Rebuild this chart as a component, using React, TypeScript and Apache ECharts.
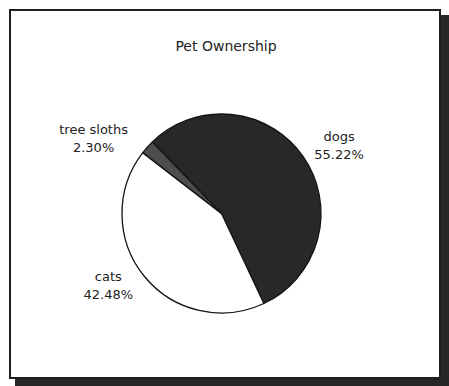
import React, { useEffect, useRef } from "react";
import * as echarts from "echarts";

const chartTitle = "Pet Ownership";
const categories = ["dogs", "cats", "tree sloths"];
const percentages = [55.22, 42.48, 2.3];
const sliceColors = ["#282828", "#ffffff", "#4d4d4d"];
// small label nudges (px) applied after ECharts' own outside-label layout
const labelNudgeX = [-4, 3.5, -5.5];
const labelNudgeY = [-5, 2, -1];

const FONT = "'DejaVu Sans', sans-serif";

export default function App() {
  const ref = useRef<HTMLDivElement>(null);
  useEffect(() => {
    if (!ref.current) return;
    const chart = echarts.init(ref.current, null, { renderer: "svg" });
    const data = categories.map((name, i) => ({
      name,
      value: percentages[i],
      itemStyle: { color: sliceColors[i] },
    }));
    chart.setOption({
      animation: false,
      backgroundColor: "#ffffff",
      title: {
        text: chartTitle,
        left: 221,
        top: 34,
        textAlign: "center",
        textStyle: {
          fontFamily: FONT,
          fontSize: 14,
          fontWeight: "normal",
          color: "#222222",
        },
      },
      graphic: [
        {
          type: "rect",
          z: 0,
          shape: { x: 15, y: 15, width: 434, height: 371 },
          style: { fill: "#262626" },
        },
        {
          type: "rect",
          z: 1,
          shape: { x: 10, y: 10, width: 430, height: 368 },
          style: { fill: "#ffffff", stroke: "#1e1e1e", lineWidth: 2 },
        },
      ],
      series: [
        {
          type: "pie",
          z: 5,
          center: [221.5, 213.5],
          radius: 99.5,
          startAngle: 134,
          clockwise: true,
          avoidLabelOverlap: false,
          itemStyle: { borderColor: "#141414", borderWidth: 1.3 },
          label: {
            show: true,
            position: "outside",
            formatter: (p: any) => `${p.name}\n${p.value.toFixed(2)}%`,
            fontFamily: FONT,
            fontSize: 13,
            lineHeight: 18,
            color: "#222222",
            distanceToLabelLine: 5,
          },
          labelLine: { show: false, length: 12, length2: 0 },
          labelLayout: (p: any) => ({
            x: p.labelRect.x + p.labelRect.width / 2 + labelNudgeX[p.dataIndex],
            y: p.labelRect.y + p.labelRect.height / 2 + labelNudgeY[p.dataIndex],
            align: "center",
            verticalAlign: "middle",
          }),
          emphasis: { disabled: true },
          data,
        },
      ],
    });
    return () => chart.dispose();
  }, []);
  return (
    <div
      ref={ref}
      style={{ position: "absolute", left: 0, top: 0, width: 449, height: 386 }}
    />
  );
}
